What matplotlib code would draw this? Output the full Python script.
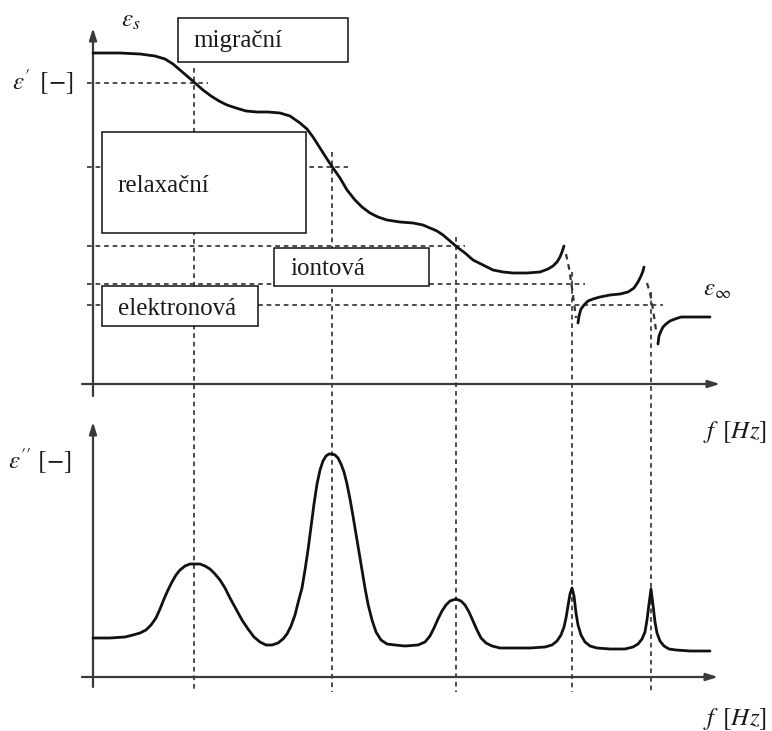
import matplotlib.pyplot as plt

# schematic, drawn on a canvas in pixel-like units (y grows downwards)

eps1_x = [93, 120, 140, 155, 165, 173, 180, 187, 195, 203, 211, 219, 227, 236, 246, 257, 268, 280,
          290, 300, 307, 313, 320, 327, 333, 340, 347, 355, 362, 370, 378, 387, 400,
          413, 423, 430, 437, 443, 450, 457, 465, 473, 483, 493, 503, 513, 527, 540,
          548, 553, 557, 560, 562, 564]
eps1_y = [53, 53, 54, 56, 59, 64, 70, 76, 83, 90, 96, 101, 105, 108, 111, 112, 112, 113,
          116, 123, 129, 137, 148, 159, 168, 178, 190, 200, 207, 213, 217, 220, 222,
          223, 225, 228, 231, 235, 241, 247, 253, 260, 265, 270, 272, 273, 273, 272,
          269, 266, 262, 257, 252, 246]
# dashed drop at the 1st resonance
res1_dash_x = [566, 569, 572, 574, 576]
res1_dash_y = [254, 268, 288, 303, 318]
# curve between resonances
eps2_x = [578, 579, 581, 584, 588, 593, 600, 610, 620, 628, 634, 638, 641, 643, 644]
eps2_y = [323, 316, 309, 305, 301, 299, 297, 295, 294, 292, 288, 282, 276, 271, 267]
# dashed drop at the 2nd resonance
res2_dash_x = [647, 650, 652, 654, 656]
res2_dash_y = [283, 293, 303, 316, 330]
# tail to eps_inf
eps3_x = [658, 659, 661, 663, 666, 670, 675, 681, 690, 700, 710]
eps3_y = [344, 336, 331, 327, 324, 321, 319, 317, 317, 317, 317]

# imaginary part eps''
eps_im_x = [93, 110, 125, 133, 140, 146, 151, 156, 160, 164, 168, 172, 176, 180, 185, 190,
            195, 200, 205, 210, 215, 220, 225, 230, 236, 242, 248, 254, 260, 266, 272,
            278, 283, 287, 291, 295, 298, 302, 305, 308, 311, 314, 317, 320, 323, 326,
            329, 332, 335, 338, 341, 344, 347, 350, 353, 356, 359, 362, 365, 368, 372,
            376, 381, 387, 395, 405, 418, 425, 430, 434, 438, 442, 446, 450, 456, 461,
            465, 469, 473, 477, 481, 486, 492, 500, 515, 530, 545, 552, 557, 561, 564,
            566, 568, 570, 572, 574, 576, 578, 581, 585, 590, 597, 610, 625, 633, 638,
            642, 645, 647, 649, 651, 653, 655, 657, 660, 664, 669, 676, 690, 710]
eps_im_y = [638, 638, 637, 635, 633, 630, 625, 618, 609, 599, 590, 582, 575, 570, 566, 564,
            564, 564, 566, 569, 574, 580, 588, 598, 609, 620, 629, 637, 642, 645, 645,
            643, 639, 634, 626, 615, 603, 588, 570, 550, 527, 504, 484, 470, 461, 456,
            454, 454, 455, 458, 464, 472, 484, 499, 516, 534, 552, 570, 588, 604, 620,
            632, 640, 644, 645, 646, 645, 642, 636, 628, 619, 611, 605, 601, 599, 601,
            605, 612, 621, 630, 638, 643, 646, 648, 648, 648, 647, 645, 641, 635, 627,
            618, 606, 594, 588, 596, 613, 625, 635, 642, 646, 648, 649, 649, 647, 644,
            639, 632, 620, 604, 589, 605, 622, 633, 641, 646, 649, 650, 651, 651]

# guide lines
vline_x = [194, 332, 456, 572, 651]
vline_top = [68, 152, 237, 272, 292]
hline_y = [83, 167, 246, 284, 305]
hline_end = [208, 348, 465, 585, 663]

# label boxes: text, left, top, right, bottom, text x, text y
boxes = [
    ("migrační", 178, 18, 348, 62, 193, 41),
    ("relaxační", 102, 132, 306, 233, 117, 186),
    ("iontová", 274, 248, 429, 286, 290, 269),
    ("elektronová", 102, 286, 258, 326, 118, 309),
]

plt.rcParams['mathtext.fontset'] = 'stix'

fig = plt.figure(figsize=(7.72, 7.31), dpi=100)
ax = fig.add_axes([0, 0, 1, 1])
ax.set_xlim(0, 772)
ax.set_ylim(731, 0)
ax.axis('off')

curve = dict(color='#111111', lw=2.0, solid_joinstyle='round', solid_capstyle='round', zorder=5)
dash = dict(color='#4d4d4d', lw=1.4, linestyle=(0, (2.4, 2.0)), zorder=1)
dash_curve = dict(color='#333333', lw=1.6, linestyle=(0, (2.5, 2.2)), zorder=5)
axis_col = '#3a3a3a'

# dashed guides
for x, top in zip(vline_x, vline_top):
    ax.plot([x, x], [top, 692], **dash)
for y, end in zip(hline_y, hline_end):
    ax.plot([87, end], [y, y], **dash)

# axes with arrows
def arrow(x0, y0, x1, y1):
    ax.annotate('', xy=(x1, y1), xytext=(x0, y0),
                arrowprops=dict(arrowstyle='-|>,head_length=0.7,head_width=0.22',
                                color=axis_col, lw=1.6, shrinkA=0, shrinkB=0), zorder=3)

arrow(93, 396, 93, 28)
arrow(82, 384, 720, 384)
arrow(93, 687, 93, 422)
arrow(82, 677, 718, 677)

# boxes
for text, l, t, r, b, tx, ty in boxes:
    ax.add_patch(plt.Rectangle((l, t), r - l, b - t, facecolor='white',
                               edgecolor='#111111', lw=1.1, zorder=4))
    ax.text(tx, ty, text, fontsize=18, family='Liberation Serif', color='#1a1a1a',
            va='center', ha='left', zorder=6)

# curves
ax.plot(eps1_x, eps1_y, **curve)
ax.plot(res1_dash_x, res1_dash_y, **dash_curve)
ax.plot(eps2_x, eps2_y, **curve)
ax.plot(res2_dash_x, res2_dash_y, **dash_curve)
ax.plot(eps3_x, eps3_y, **curve)
ax.plot(eps_im_x, eps_im_y, **curve)

# labels
lab = dict(fontsize=18, color='#1a1a1a', va='center', ha='left')
ax.text(121, 20, r'$\varepsilon_s$', **lab)
ax.text(12, 82, r'$\varepsilon^{\prime}\ \,[-]$', **lab)
ax.text(703, 289, r'$\varepsilon_\infty$', **lab)
ax.text(703, 432, r'$f\ \,[Hz]$', **lab)
ax.text(8, 461, r'$\varepsilon^{\prime\prime}\ [-]$', **lab)
ax.text(703, 719, r'$f\ \,[Hz]$', **lab)

plt.savefig('out.png', dpi=100)
